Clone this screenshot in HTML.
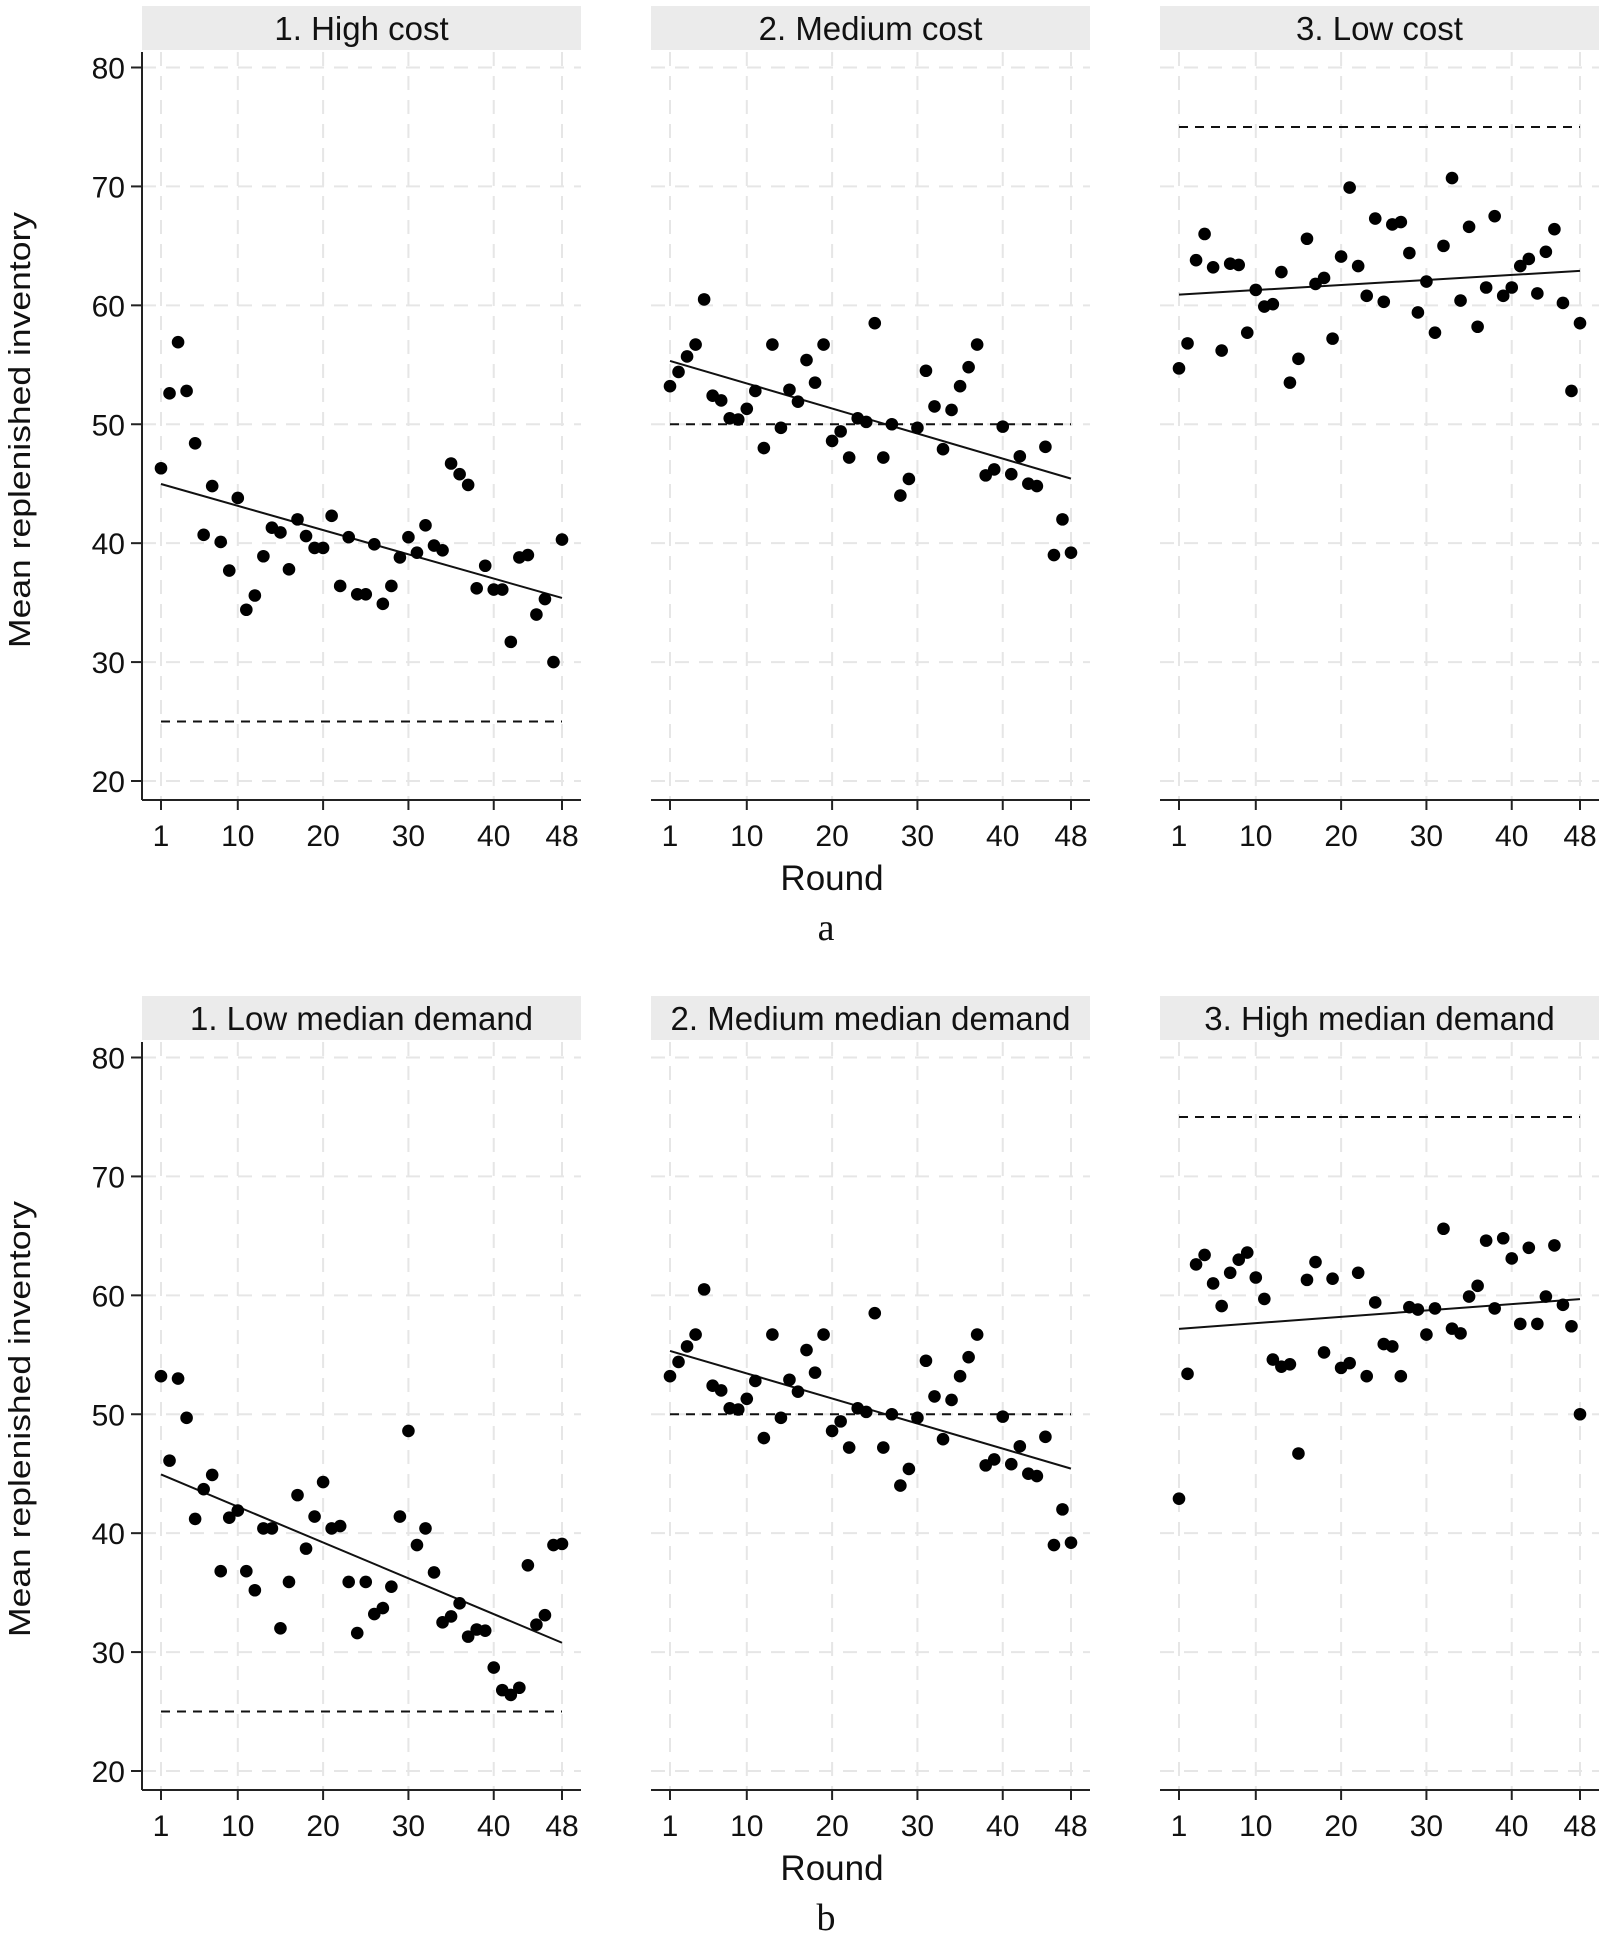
<!DOCTYPE html>
<html><head><meta charset="utf-8">
<style>
html,body{margin:0;padding:0;background:#fff;}
svg{display:block;font-family:"Liberation Sans",sans-serif;}
</style></head>
<body>
<svg id="chart" width="1600" height="1941" viewBox="0 0 1600 1941" xmlns="http://www.w3.org/2000/svg">
<text transform="translate(30,430) rotate(-90)" text-anchor="middle" font-size="31" textLength="436" lengthAdjust="spacingAndGlyphs" fill="#111">Mean replenished inventory</text>
<text transform="translate(30,1419) rotate(-90)" text-anchor="middle" font-size="31" textLength="436" lengthAdjust="spacingAndGlyphs" fill="#111">Mean replenished inventory</text>
<text x="832" y="890" text-anchor="middle" font-size="35" fill="#111">Round</text>
<text x="832" y="1880" text-anchor="middle" font-size="35" fill="#111">Round</text>
<text x="826" y="940" text-anchor="middle" font-size="38" font-family="Liberation Serif, serif" fill="#111">a</text>
<text x="826" y="1930" text-anchor="middle" font-size="38" font-family="Liberation Serif, serif" fill="#111">b</text>
</svg>
<script>
const yTicks = [20,30,40,50,60,70,80];
const xTicks = [1,10,20,30,40,48];
const titles = ["1. High cost","2. Medium cost","3. Low cost","1. Low median demand","2. Medium median demand","3. High median demand"];
const refLines = [25,50,75,25,50,75];
const seriesA1 = [46.3,52.6,56.9,52.8,48.4,40.7,44.8,40.1,37.7,43.8,34.4,35.6,38.9,41.3,40.9,37.8,42.0,40.6,39.6,39.6,42.3,36.4,40.5,35.7,35.7,39.9,34.9,36.4,38.8,40.5,39.2,41.5,39.8,39.4,46.7,45.8,44.9,36.2,38.1,36.1,36.1,31.7,38.8,39.0,34.0,35.3,30.0,40.3];
const seriesA2 = [53.2,54.4,55.7,56.7,60.5,52.4,52.0,50.5,50.4,51.3,52.8,48.0,56.7,49.7,52.9,51.9,55.4,53.5,56.7,48.6,49.4,47.2,50.5,50.2,58.5,47.2,50.0,44.0,45.4,49.7,54.5,51.5,47.9,51.2,53.2,54.8,56.7,45.7,46.2,49.8,45.8,47.3,45.0,44.8,48.1,39.0,42.0,39.2];
const seriesA3 = [54.7,56.8,63.8,66.0,63.2,56.2,63.5,63.4,57.7,61.3,59.9,60.1,62.8,53.5,55.5,65.6,61.8,62.3,57.2,64.1,69.9,63.3,60.8,67.3,60.3,66.8,67.0,64.4,59.4,62.0,57.7,65.0,70.7,60.4,66.6,58.2,61.5,67.5,60.8,61.5,63.3,63.9,61.0,64.5,66.4,60.2,52.8,58.5];
const seriesB1 = [53.2,46.1,53.0,49.7,41.2,43.7,44.9,36.8,41.3,41.9,36.8,35.2,40.4,40.4,32.0,35.9,43.2,38.7,41.4,44.3,40.4,40.6,35.9,31.6,35.9,33.2,33.7,35.5,41.4,48.6,39.0,40.4,36.7,32.5,33.0,34.1,31.3,31.9,31.8,28.7,26.8,26.4,27.0,37.3,32.3,33.1,39.0,39.1];
const seriesB2 = [53.2,54.4,55.7,56.7,60.5,52.4,52.0,50.5,50.4,51.3,52.8,48.0,56.7,49.7,52.9,51.9,55.4,53.5,56.7,48.6,49.4,47.2,50.5,50.2,58.5,47.2,50.0,44.0,45.4,49.7,54.5,51.5,47.9,51.2,53.2,54.8,56.7,45.7,46.2,49.8,45.8,47.3,45.0,44.8,48.1,39.0,42.0,39.2];
const seriesB3 = [42.9,53.4,62.6,63.4,61.0,59.1,61.9,63.0,63.6,61.5,59.7,54.6,54.0,54.2,46.7,61.3,62.8,55.2,61.4,53.9,54.3,61.9,53.2,59.4,55.9,55.7,53.2,59.0,58.8,56.7,58.9,65.6,57.2,56.8,59.9,60.8,64.6,58.9,64.8,63.1,57.6,64.0,57.6,59.9,64.2,59.2,57.4,50.0];
const allSeries = [seriesA1,seriesA2,seriesA3,seriesB1,seriesB2,seriesB3];

const NS = "http://www.w3.org/2000/svg";
const svg = document.getElementById('chart');
function mk(tag, attrs, parent){
  const e = document.createElementNS(NS, tag);
  for (const k in attrs) e.setAttribute(k, attrs[k]);
  parent.appendChild(e);
  return e;
}
const colLeft = [142, 651, 1160];
const rowTop = [0, 990];
allSeries.forEach((data, p) => {
  const col = p % 3, row = Math.floor(p / 3);
  const L = colLeft[col], R = L + 439, T = rowTop[row];
  const xS = v => L + 19 + (v - 1) * (401 / 47);
  const yS = v => T + 67.5 + (80 - v) * (713.5 / 60);
  const axisY = T + 800;
  const g = mk('g', {}, svg);
  
  
  const bar = mk('rect', {x: L, y: T + 6, width: R - L, height: 44, fill: '#ebebeb'}, g);
  
  
  const tt = mk('text', {x: (L + R) / 2, y: T + 40, 'text-anchor': 'middle', 'font-size': 33, fill: '#111'}, g);
  tt.textContent = titles[p];
  
  
  yTicks.forEach(v => {
    const gl = mk('line', {x1: L, x2: R, y1: yS(v), y2: yS(v), stroke: '#e6e6e6', 'stroke-width': 2, 'stroke-dasharray': '14,10'}, g);
    
    
  });
  xTicks.forEach(v => {
    const gl = mk('line', {x1: xS(v), x2: xS(v), y1: T + 52, y2: axisY, stroke: '#e6e6e6', 'stroke-width': 2, 'stroke-dasharray': '14,10'}, g);
    
    
    const tk = mk('line', {x1: xS(v), x2: xS(v), y1: axisY, y2: axisY + 10, stroke: '#222', 'stroke-width': 2}, g);
    
    
    const lb = mk('text', {x: xS(v), y: axisY + 46, 'text-anchor': 'middle', 'font-size': 30, fill: '#111'}, g);
    lb.textContent = v;
    
    
  });
  const xa = mk('line', {x1: L, x2: R, y1: axisY, y2: axisY, stroke: '#222', 'stroke-width': 2}, g);
  
  
  if (col === 0) {
    const ya = mk('line', {x1: L, x2: L, y1: T + 52, y2: axisY, stroke: '#222', 'stroke-width': 2}, g);
    
    
    yTicks.forEach(v => {
      const tk = mk('line', {x1: L - 11, x2: L, y1: yS(v), y2: yS(v), stroke: '#222', 'stroke-width': 2}, g);
      
      
      const lb = mk('text', {x: L - 17, y: yS(v) + 11, 'text-anchor': 'end', 'font-size': 30, fill: '#111'}, g);
      lb.textContent = v;
      
      
    });
  }
  const ref = mk('line', {x1: xS(1), x2: xS(48), y1: yS(refLines[p]), y2: yS(refLines[p]), stroke: '#111', 'stroke-width': 2, 'stroke-dasharray': '9,7'}, g);
  
  
  const n = data.length;
  let sx = 0, sy = 0, sxx = 0, sxy = 0;
  data.forEach((v, i) => { const x = i + 1; sx += x; sy += v; sxx += x * x; sxy += x * v; });
  const b = (n * sxy - sx * sy) / (n * sxx - sx * sx), a = (sy - b * sx) / n;
  const fit = mk('line', {x1: xS(1), x2: xS(n), y1: yS(a + b), y2: yS(a + b * n), stroke: '#111', 'stroke-width': 2}, g);
  
  
  data.forEach((v, i) => {
    const c = mk('circle', {cx: xS(i + 1), cy: yS(v), r: 6.3, fill: '#000'}, g);
    
    
  });
});
</script>
</body></html>
